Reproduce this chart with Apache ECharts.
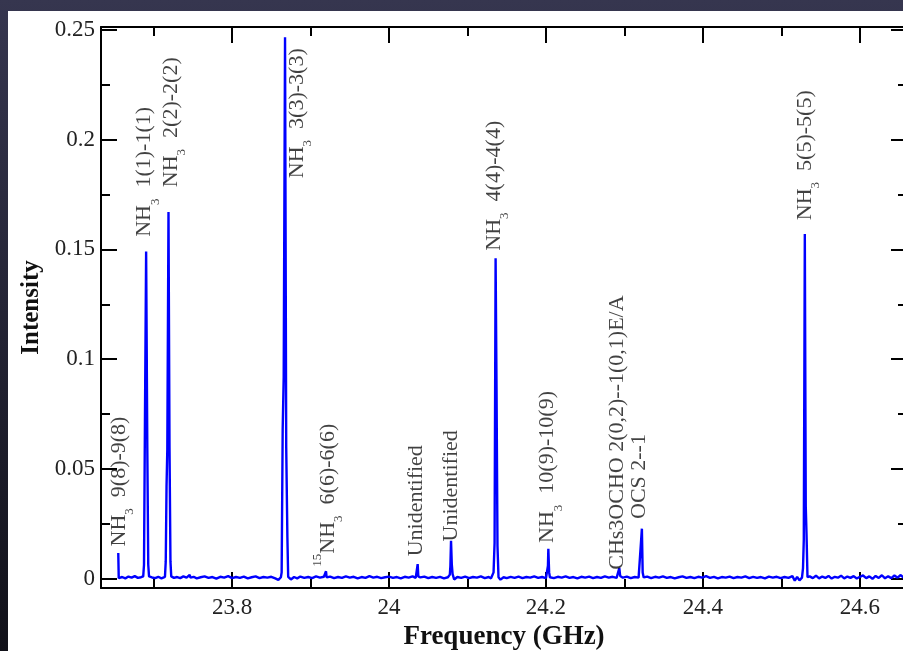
<!DOCTYPE html>
<html>
<head>
<meta charset="utf-8">
<title>Spectrum</title>
<script src="https://cdn.jsdelivr.net/npm/echarts@6/dist/echarts.min.js"></script>
<style>
  html, body { margin: 0; padding: 0; }
  #chart { width: 903px; height: 651px; }
</style>
</head>
<body>
<div id="chart"></div>
<script>
// axis ranges and ticks
var xMin = 23.633, xMax = 24.66;
var yMin = -0.0041, yMax = 0.2512;
var xMajor = [23.8, 24, 24.2, 24.4, 24.6];
var xMinor = [23.7, 23.9, 24.1, 24.3, 24.5];
var yMajor = [0, 0.05, 0.1, 0.15, 0.2, 0.25];
var yMinor = [0.025, 0.075, 0.125, 0.175, 0.225];

// spectrum [frequency GHz, intensity]
var spectrum = [
  [23.6550,0.0118],[23.6556,0.0004],[23.6600,0.0009],[23.6640,0.0003],[23.6680,0.0011],[23.6720,0.0006],
  [23.6760,0.0013],[23.6800,0.0005],[23.6840,0.0008],[23.6868,0.0012],
  // NH3 1(1)-1(1)
  [23.6878,0.0065],[23.6890,0.0720],[23.6905,0.1490],[23.6920,0.0600],[23.6932,0.0065],[23.6942,0.0012],
  [23.6980,0.0007],[23.7020,0.0004],[23.7060,0.0010],[23.7100,0.0003],[23.7145,0.0010],
  // NH3 2(2)-2(2)
  [23.7155,0.0080],[23.7165,0.0420],[23.7175,0.0590],[23.7190,0.1670],[23.7203,0.0600],[23.7215,0.0080],[23.7225,0.0012],
  [23.7260,0.0005],[23.7300,0.0009],[23.7340,0.0004],[23.7380,0.0012],[23.7420,0.0006],[23.7460,0.0019],[23.7470,0.0006],
  [23.7510,0.0010],[23.7550,0.0003],[23.7600,0.0008],[23.7650,0.0012],[23.7700,0.0005],[23.7750,0.0009],[23.7800,0.0002],
  [23.7850,0.0010],[23.7900,0.0006],[23.7950,0.0013],[23.8000,0.0004],[23.8050,0.0009],[23.8100,0.0005],[23.8150,0.0011],
  [23.8200,0.0003],[23.8250,0.0008],[23.8300,0.0012],[23.8350,0.0004],[23.8400,0.0009],[23.8450,0.0006],[23.8500,0.0010],
  [23.8550,0.0003],[23.8590,-0.0004],[23.8622,0.0008],
  // NH3 3(3)-3(3)
  [23.8632,0.0030],[23.8645,0.0680],[23.8658,0.0920],[23.8675,0.2465],[23.8690,0.0600],[23.8705,0.0190],[23.8715,0.0010],
  [23.8750,-0.0002],[23.8790,0.0009],[23.8830,0.0003],[23.8870,0.0011],[23.8920,0.0005],[23.8970,0.0009],[23.9020,0.0004],
  [23.9070,0.0012],[23.9120,0.0006],[23.9170,0.0010],[23.9190,0.0008],[23.9197,0.0035],[23.9205,0.0007],[23.9250,0.0011],
  [23.9300,0.0004],[23.9350,0.0009],[23.9400,0.0005],[23.9450,0.0012],[23.9500,0.0006],[23.9550,0.0010],[23.9600,0.0003],
  [23.9650,0.0009],[23.9700,0.0005],[23.9750,0.0013],[23.9800,0.0006],[23.9850,0.0010],[23.9900,0.0004],[23.9950,0.0008],
  [24.0000,0.0011],[24.0050,0.0005],[24.0100,0.0009],[24.0150,0.0003],[24.0200,0.0010],[24.0250,0.0006],[24.0300,0.0012],
  [24.0340,0.0005],[24.0358,0.0010],[24.0365,0.0068],[24.0373,0.0012],[24.0400,0.0007],[24.0450,0.0011],[24.0500,0.0004],
  [24.0550,0.0009],[24.0600,0.0005],[24.0650,0.0010],[24.0700,0.0003],[24.0750,0.0008],[24.0775,0.0020],[24.0782,0.0060],
  [24.0790,0.0174],[24.0800,0.0065],[24.0810,0.0022],[24.0830,-0.0002],[24.0870,0.0009],[24.0920,0.0005],[24.0970,0.0011],
  [24.1020,0.0004],[24.1070,0.0009],[24.1120,0.0006],[24.1170,0.0012],[24.1220,0.0004],[24.1270,0.0009],[24.1300,0.0003],
  [24.1320,0.0006],
  // NH3 4(4)-4(4)
  [24.1332,0.0030],[24.1345,0.0165],[24.1358,0.1460],[24.1370,0.0860],[24.1382,0.0150],[24.1395,0.0008],
  [24.1420,-0.0003],[24.1460,0.0008],[24.1500,0.0004],[24.1550,0.0010],[24.1600,0.0005],[24.1650,0.0011],[24.1700,0.0004],
  [24.1750,0.0009],[24.1800,0.0006],[24.1850,0.0012],[24.1900,0.0005],[24.1950,0.0009],[24.2000,0.0004],[24.2015,0.0010],
  [24.2025,0.0060],[24.2030,0.0138],[24.2040,0.0030],[24.2050,0.0008],[24.2100,0.0004],[24.2150,0.0010],[24.2200,0.0006],
  [24.2250,0.0012],[24.2300,0.0005],[24.2350,0.0009],[24.2400,0.0003],[24.2450,0.0010],[24.2500,0.0006],[24.2550,0.0011],
  [24.2600,0.0004],[24.2650,0.0009],[24.2700,0.0005],[24.2750,0.0012],[24.2800,0.0006],[24.2850,0.0010],[24.2900,0.0005],
  [24.2925,0.0012],[24.2934,0.0050],[24.2945,0.0014],[24.2980,0.0006],[24.3030,0.0011],[24.3080,0.0004],[24.3130,0.0009],
  [24.3180,0.0006],[24.3205,0.0012],[24.3213,0.0180],[24.3222,0.0229],[24.3232,0.0030],[24.3245,0.0007],[24.3290,0.0011],
  [24.3340,0.0004],[24.3390,0.0010],[24.3440,0.0006],[24.3490,0.0012],[24.3540,0.0005],[24.3590,0.0009],[24.3640,0.0003],
  [24.3690,0.0008],[24.3740,0.0012],[24.3790,0.0005],[24.3840,0.0009],[24.3890,0.0004],[24.3940,0.0010],[24.3990,0.0006],
  [24.4040,0.0013],[24.4090,0.0005],[24.4140,0.0010],[24.4190,0.0003],[24.4240,0.0009],[24.4290,0.0006],[24.4340,0.0011],
  [24.4390,0.0004],[24.4440,0.0009],[24.4490,0.0006],[24.4540,0.0012],[24.4590,0.0004],[24.4640,0.0010],[24.4690,0.0005],
  [24.4740,0.0009],[24.4790,0.0003],[24.4840,0.0011],[24.4890,0.0006],[24.4940,0.0010],[24.4990,0.0004],[24.5040,0.0009],
  [24.5090,0.0005],[24.5140,0.0013],[24.5170,-0.0008],[24.5200,0.0010],[24.5230,-0.0006],[24.5262,0.0006],
  // NH3 5(5)-5(5)
  [24.5275,0.0050],[24.5285,0.0180],[24.5298,0.1570],[24.5310,0.0330],[24.5320,0.0200],[24.5332,0.0008],
  [24.5360,0.0012],[24.5400,0.0004],[24.5440,0.0015],[24.5480,0.0003],[24.5520,0.0011],[24.5560,0.0005],[24.5600,0.0014],
  [24.5640,0.0002],[24.5680,0.0010],[24.5720,0.0006],[24.5760,0.0015],[24.5800,0.0003],[24.5840,0.0011],[24.5880,0.0005],
  [24.5920,0.0013],[24.5960,0.0002],[24.6000,0.0010],[24.6040,0.0016],[24.6080,0.0004],[24.6120,0.0012],[24.6160,0.0001],
  [24.6200,0.0014],[24.6240,0.0005],[24.6280,0.0017],[24.6320,0.0003],[24.6360,0.0012],[24.6400,0.0004],[24.6440,0.0016],
  [24.6480,0.0006],[24.6520,0.0018],[24.6560,0.0005],[24.6600,0.0013]
];

// line labels: [frequency, intensity where the text starts, text]
var lineLabels = [
  [23.6556, 0.0148, '{m|NH}{sub|3}{m|  9(8)-9(8)}'],
  [23.6887, 0.1557, '{m|NH}{sub|3}{m|  1(1)-1(1)}'],
  [23.7228, 0.1783, '{m|NH}{sub|3}{m|  2(2)-2(2)}'],
  [23.8827, 0.1824, '{m|NH}{sub|3}{m|  3(3)-3(3)}'],
  [23.9222, 0.0056, '{sup|15}{m|NH}{sub|3}{m|  6(6)-6(6)}'],
  [24.0350, 0.0103, '{m|Unidentified}'],
  [24.0790, 0.0171, '{m|Unidentified}'],
  [24.1341, 0.1494, '{m|NH}{sub|3}{m|  4(4)-4(4)}'],
  [24.2022, 0.0164, '{m|NH}{sub|3}{m|  10(9)-10(9)}'],
  [24.2905, 0.0042, '{m|CHs3OCHO 2(0,2)--1(0,1)E/A}'],
  [24.3185, 0.0273, '{m|OCS 2--1}'],
  [24.5300, 0.1633, '{m|NH}{sub|3}{m|  5(5)-5(5)}']
];

var serif = 'Liberation Serif';

function xAxisDef(pos, ticks, len, withLabels) {
  return {
    type: 'value', position: pos, min: xMin, max: xMax,
    axisLine: { show: len > 10, onZero: false, lineStyle: { color: '#000', width: 2 } },
    axisTick: { inside: true, length: len, customValues: ticks, lineStyle: { color: '#000', width: 2 } },
    axisLabel: withLabels ? { customValues: ticks, color: '#222', fontFamily: serif, fontSize: 23, margin: 8 } : { show: false },
    splitLine: { show: false },
    name: withLabels ? 'Frequency (GHz)' : '',
    nameLocation: 'middle', nameGap: 33,
    nameTextStyle: { fontFamily: serif, fontSize: 27, fontWeight: 'bold', color: '#111' }
  };
}
function yAxisDef(pos, ticks, len, withLabels) {
  return {
    type: 'value', position: pos, min: yMin, max: yMax,
    axisLine: { show: len > 10 && pos === 'left', onZero: false, lineStyle: { color: '#000', width: 2 } },
    axisTick: { inside: true, length: len, customValues: ticks, lineStyle: { color: '#000', width: 2 } },
    axisLabel: withLabels ? { customValues: ticks, color: '#222', fontFamily: serif, fontSize: 23, margin: 6 } : { show: false },
    splitLine: { show: false },
    name: withLabels ? 'Intensity' : '',
    nameLocation: 'middle', nameGap: 56,
    nameTextStyle: { fontFamily: serif, fontSize: 25, fontWeight: 'bold', color: '#111' }
  };
}

var chart = echarts.init(document.getElementById('chart'));
chart.setOption({
  animation: false,
  backgroundColor: {
    type: 'linear', x: 0, y: 0, x2: 0, y2: 1,
    colorStops: [{ offset: 0, color: '#36364f' }, { offset: 1, color: '#111119' }]
  },
  graphic: [{
    type: 'rect', z: -10, silent: true,
    shape: { x: 8, y: 11, width: 900, height: 645 },
    style: { fill: '#ffffff' }
  }],
  grid: { left: 101, top: 27, right: -4, bottom: 63, outerBoundsMode: 'none', containLabel: false },
  xAxis: [
    xAxisDef('bottom', xMajor, 16, true),
    xAxisDef('bottom', xMinor, 9, false),
    xAxisDef('top', xMajor, 16, false),
    xAxisDef('top', xMinor, 9, false)
  ],
  yAxis: [
    yAxisDef('left', yMajor, 16, true),
    yAxisDef('left', yMinor, 9, false),
    yAxisDef('right', yMajor, 16, false),
    yAxisDef('right', yMinor, 9, false)
  ],
  series: [
    {
      type: 'line',
      data: spectrum,
      symbol: 'none',
      sampling: null,
      lineStyle: { color: '#0000ff', width: 2.4 },
      z: 3
    },
    {
      type: 'scatter',
      data: lineLabels,
      symbolSize: 1,
      itemStyle: { color: 'transparent' },
      silent: true,
      z: 4,
      label: {
        show: true,
        position: 'inside',
        rotate: 90,
        align: 'left',
        verticalAlign: 'middle',
        formatter: function (p) { return p.data[2]; },
        rich: {
          m: { fontFamily: serif, fontSize: 22, lineHeight: 34, color: '#111', verticalAlign: 'middle' },
          sub: { fontFamily: serif, fontSize: 13, lineHeight: 10, color: '#111', verticalAlign: 'bottom' },
          sup: { fontFamily: serif, fontSize: 13, lineHeight: 10, color: '#111', verticalAlign: 'top' }
        }
      }
    }
  ]
});
</script>
</body>
</html>
